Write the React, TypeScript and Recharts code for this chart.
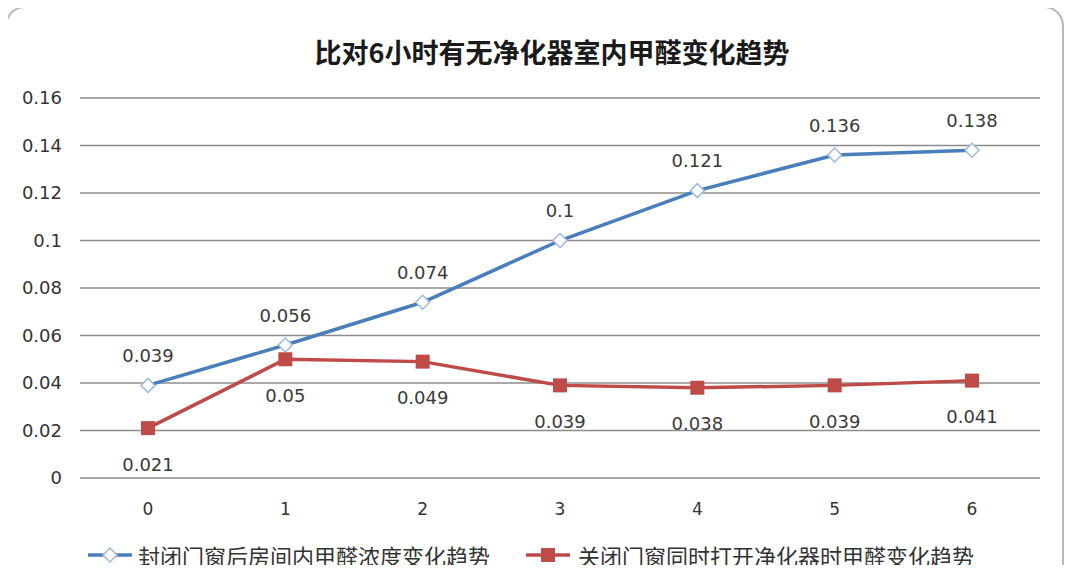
import React from 'react';
import { LineChart, Line, XAxis, YAxis, CartesianGrid, LabelList } from 'recharts';

const hours = ['0', '1', '2', '3', '4', '5', '6'];
const closedRoom = [0.039, 0.056, 0.074, 0.1, 0.121, 0.136, 0.138];
const withPurifier = [0.021, 0.05, 0.049, 0.039, 0.038, 0.039, 0.041];
const yTicks = [0, 0.02, 0.04, 0.06, 0.08, 0.1, 0.12, 0.14, 0.16];

const seriesNames = ['封闭门窗后房间内甲醛浓度变化趋势', '关闭门窗同时打开净化器时甲醛变化趋势'];

const BLUE = '#4a7ebb';
const RED = '#be4b48';
const FONT = '"DejaVu Sans", "Noto Sans CJK SC", sans-serif';
const CJK = '"Noto Sans CJK SC", sans-serif';

const data = hours.map((h, i) => ({ hour: h, closed: closedRoom[i], purifier: withPurifier[i] }));

const Diamond = (props: any) => {
    const { cx, cy } = props;
    if (cx == null || cy == null) return null;
    const r = 7;
    return (
        <polygon
            points={`${cx},${cy - r} ${cx + r},${cy} ${cx},${cy + r} ${cx - r},${cy}`}
            fill="#ffffff"
            stroke="#9db9de"
            strokeWidth={1.5}
        />
    );
};

const Square = (props: any) => {
    const { cx, cy } = props;
    if (cx == null || cy == null) return null;
    return <rect x={cx - 7} y={cy - 7} width={14} height={14} fill={RED} />;
};

const makeLabel = (dy: number) => (props: any) => {
    const { x, y, value } = props;
    return (
        <text x={x} y={y + dy} textAnchor="middle" dominantBaseline="central" fontSize={18} fill="#3a3a3a" fontFamily={FONT}>
            {value}
        </text>
    );
};

export default function App() {
    return (
        <div style={{ position: 'relative', width: 1080, height: 573, margin: -8, overflow: 'hidden', background: '#ffffff' }}>
            <div
                style={{
                    position: 'absolute',
                    left: 5,
                    top: 6,
                    width: 1059,
                    height: 640,
                    border: '2px solid #b9b9b9',
                    borderRadius: 20,
                    boxSizing: 'border-box',
                }}
            />
            <div
                style={{
                    position: 'absolute',
                    left: 0,
                    width: 1104,
                    top: 33,
                    textAlign: 'center',
                    fontFamily: CJK,
                    fontWeight: 700,
                    fontSize: 27,
                    lineHeight: '38px',
                    color: '#1a1a1a',
                }}
            >
                比对6小时有无净化器室内甲醛变化趋势
            </div>
            <div style={{ position: 'absolute', left: 0, top: 0 }}>
                <LineChart width={1080} height={573} data={data} margin={{ top: 98, right: 40, bottom: 65, left: 0 }}>
                    <CartesianGrid vertical={false} stroke="#8c8c8c" strokeWidth={1.5} />
                    <XAxis
                        dataKey="hour"
                        height={30}
                        axisLine={false}
                        tickLine={false}
                        padding={{ left: 68, right: 68 }}
                        tickSize={0}
                        tickMargin={25}
                        tick={{ fontSize: 17, fill: '#333', fontFamily: FONT }}
                        interval={0}
                    />
                    <YAxis
                        width={80}
                        domain={[0, 0.16]}
                        ticks={yTicks}
                        axisLine={false}
                        tickLine={false}
                        tickSize={0}
                        tickMargin={18}
                        tick={{ fontSize: 18, fill: '#333', fontFamily: FONT }}
                        interval={0}
                    />
                    <Line
                        dataKey="closed"
                        stroke={BLUE}
                        strokeWidth={3.5}
                        dot={<Diamond />}
                        activeDot={false}
                        isAnimationActive={false}
                    >
                        <LabelList dataKey="closed" content={makeLabel(-30)} />
                    </Line>
                    <Line
                        dataKey="purifier"
                        stroke={RED}
                        strokeWidth={3.5}
                        dot={<Square />}
                        activeDot={false}
                        isAnimationActive={false}
                    >
                        <LabelList dataKey="purifier" content={makeLabel(36)} />
                    </Line>
                </LineChart>
            </div>
            <div
                style={{
                    position: 'absolute',
                    left: 86,
                    top: 542,
                    height: 26,
                    lineHeight: '26px',
                    display: 'flex',
                    alignItems: 'center',
                    fontFamily: CJK,
                    fontSize: 22,
                    color: '#333',
                }}
            >
                <svg width={48} height={20} style={{ marginRight: 4 }}>
                    <line x1={2} y1={10} x2={46} y2={10} stroke={BLUE} strokeWidth={3.5} />
                    <polygon points="24,3 31,10 24,17 17,10" fill="#ffffff" stroke="#9db9de" strokeWidth={1.5} />
                </svg>
                <span style={{ marginRight: 34 }}>{seriesNames[0]}</span>
                <svg width={48} height={20} style={{ marginRight: 6 }}>
                    <line x1={2} y1={10} x2={46} y2={10} stroke={RED} strokeWidth={3.5} />
                    <rect x={17} y={3} width={14} height={14} fill={RED} />
                </svg>
                <span>{seriesNames[1]}</span>
            </div>
        </div>
    );
}
